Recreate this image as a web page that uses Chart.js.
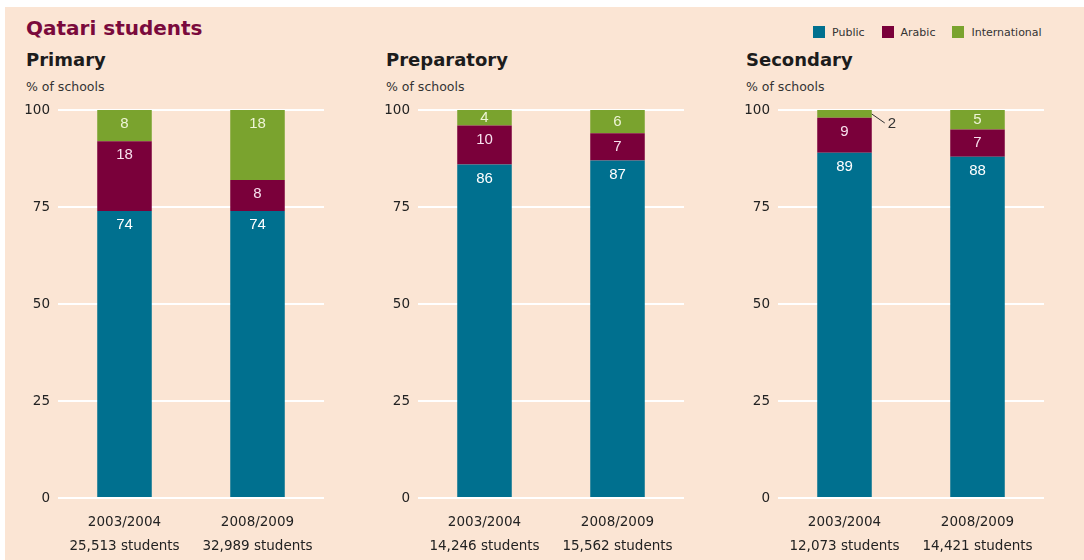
<!DOCTYPE html>
<html>
<head>
<meta charset="utf-8">
<script src="https://cdn.jsdelivr.net/npm/chart.js@4/dist/chart.umd.min.js"></script>
<style>
  html, body { margin: 0; padding: 0; background: #fff; }
  #frame { position: absolute; left: 5px; top: 7px; width: 1079px; height: 553px; background: #fbe5d4; overflow: hidden; }
  .txt { position: absolute; white-space: nowrap; font-family: "DejaVu Sans", sans-serif; }
  #title { left: 21px; top: 9px; font-size: 20px; font-weight: bold; color: #7a0a3c; }
  .ptitle { top: 42px; font-size: 18px; font-weight: bold; color: #1c1c1c; }
  .psub { top: 72px; font-size: 12.5px; color: #333; }
  .box { position: absolute; top: 0; width: 340px; height: 466px; }
  #legend { position: absolute; top: 19px; left: 808px; font-family: "DejaVu Sans", sans-serif; font-size: 11px; color: #333; }
  #legend span.item { display: inline-block; margin-right: 17px; }
  #legend i { display: inline-block; width: 12px; height: 12px; vertical-align: -2px; margin-right: 7px; }
</style>
</head>
<body>
<div id="frame">
  <div class="txt" id="title">Qatari students</div>
  <div id="legend"></div>
</div>
<script>
const seriesNames = ['Public', 'Arabic', 'International'];
const seriesColors = ['#00708f', '#7a003a', '#7aa32e'];
const labelColors = ['#ffffff', '#f8e0ee', '#eef4d6'];
const panelTitles = ['Primary', 'Preparatory', 'Secondary'];
const years = ['2003/2004', '2008/2009'];
const students = [
  ['25,513 students', '32,989 students'],
  ['14,246 students', '15,562 students'],
  ['12,073 students', '14,421 students']
];
// values per panel: [2003/2004, 2008/2009]
const publicVals = [[74, 74], [86, 87], [89, 88]];
const arabicVals = [[18, 8], [10, 7], [9, 7]];
const internationalVals = [[8, 18], [4, 6], [2, 5]];
const yTicks = [0, 25, 50, 75, 100];

const frame = document.getElementById('frame');
const legend = document.getElementById('legend');
seriesNames.forEach((n, i) => {
  legend.innerHTML += `<span class="item"><i style="background:${seriesColors[i]}"></i>${n}</span>`;
});

const segLabels = {
  id: 'segLabels',
  afterDatasetsDraw(chart) {
    const ctx = chart.ctx;
    ctx.save();
    ctx.font = '15px "Liberation Sans", Arial, sans-serif';
    ctx.textAlign = 'center';
    ctx.textBaseline = 'middle';
    chart.data.datasets.forEach((ds, di) => {
      chart.getDatasetMeta(di).data.forEach((bar, i) => {
        const v = ds.data[i];
        const h = bar.base - bar.y;
        if (h < 12) {
          const right = bar.x + bar.width / 2;
          const mid = (bar.y + bar.base) / 2;
          ctx.strokeStyle = '#333';
          ctx.lineWidth = 1;
          ctx.beginPath();
          ctx.moveTo(right, mid);
          ctx.lineTo(right + 13, mid + 9);
          ctx.stroke();
          ctx.fillStyle = '#333';
          ctx.textAlign = 'left';
          ctx.fillText(v, right + 16, mid + 10);
          ctx.textAlign = 'center';
        } else {
          ctx.fillStyle = labelColors[di];
          ctx.fillText(v, bar.x, bar.y + Math.min(h / 2, 14));
        }
      });
    });
    ctx.restore();
  }
};

panelTitles.forEach((t, p) => {
  const left = 360 * p - 5;
  const tt = document.createElement('div');
  tt.className = 'txt ptitle';
  tt.style.left = (left + 26) + 'px';
  tt.textContent = t;
  frame.appendChild(tt);
  const st = document.createElement('div');
  st.className = 'txt psub';
  st.style.left = (left + 26) + 'px';
  st.textContent = '% of schools';
  frame.appendChild(st);

  const box = document.createElement('div');
  box.className = 'box';
  box.style.left = left + 'px';
  box.style.top = '87px';
  const cv = document.createElement('canvas');
  box.appendChild(cv);
  frame.appendChild(box);

  new Chart(cv, {
    type: 'bar',
    data: {
      labels: years.map((y, i) => [y, students[p][i]]),
      datasets: [publicVals, arabicVals, internationalVals].map((vals, si) => ({
        label: seriesNames[si],
        data: vals[p],
        backgroundColor: seriesColors[si],
        borderWidth: 0,
        barPercentage: 0.41,
        categoryPercentage: 1
      }))
    },
    options: {
      responsive: true,
      maintainAspectRatio: false,
      animation: false,
      layout: { padding: { top: 4, right: 16, left: 0, bottom: 0 } },
      plugins: { legend: { display: false }, tooltip: { enabled: false } },
      scales: {
        x: {
          stacked: true,
          grid: { display: false },
          border: { display: false },
          ticks: {
            color: '#222',
            font: { family: '"DejaVu Sans", sans-serif', size: 13.5, lineHeight: 1.75 },
            padding: 5,
            maxRotation: 0
          },
          afterFit: s => { s.height = 62; }
        },
        y: {
          stacked: true,
          min: 0,
          max: 100,
          afterBuildTicks: s => { s.ticks = yTicks.map(v => ({ value: v })); },
          grid: { color: '#ffffff', lineWidth: 2, drawTicks: false },
          border: { display: false },
          ticks: {
            color: '#222',
            font: { family: '"DejaVu Sans", sans-serif', size: 13.5 },
            padding: 8
          },
          afterFit: s => { s.width = 58; }
        }
      }
    },
    plugins: [segLabels]
  });
});
</script>
</body>
</html>
